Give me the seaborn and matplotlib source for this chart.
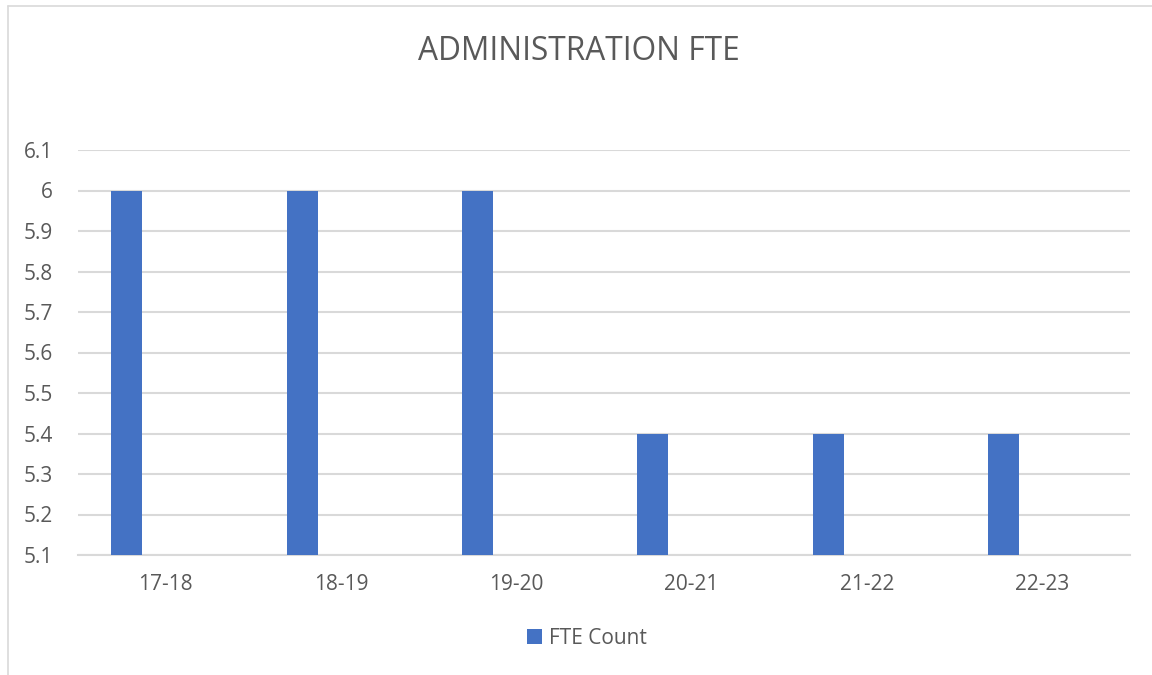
import numpy as np
import pandas as pd
import matplotlib
matplotlib.use("Agg")
import matplotlib.pyplot as plt
from matplotlib.lines import Line2D
from matplotlib.ticker import FixedLocator, FuncFormatter
import seaborn as sns

# chart data
years = ["17-18", "18-19", "19-20", "20-21", "21-22", "22-23"]
fte_count = [6, 6, 6, 5.4, 5.4, 5.4]
series_name = "FTE Count"
y_ticks = [5.1, 5.2, 5.3, 5.4, 5.5, 5.6, 5.7, 5.8, 5.9, 6.0, 6.1]

df = pd.DataFrame({"year": years, "fte": fte_count, "series": series_name})

sns.set_style("white")
plt.rcParams["font.family"] = ["Open Sans", "DejaVu Sans"]
text_col = "#595959"
grid_col = "#D9D9D9"

fig = plt.figure(figsize=(11.52, 6.75), dpi=100)
ax = fig.add_axes([78 / 1152, 1 - 555 / 675, (1130 - 78) / 1152, 0.6])

# an empty second hue slot keeps the bar on the left of each category, like the Excel original
sns.barplot(data=df, x="year", y="fte", hue="series",
            hue_order=[series_name, "_blank"],
            palette={series_name: "#4472C4", "_blank": "#ED7D31"},
            dodge=True, width=0.889, gap=0.603, saturation=1,
            errorbar=None, legend=False, ax=ax, linewidth=0, zorder=3)

ax.set_ylim(5.1, 6.1)
ax.yaxis.set_major_locator(FixedLocator(y_ticks))
ax.yaxis.set_major_formatter(FuncFormatter(lambda v, p: f"{round(v, 2):g}"))
ax.grid(axis="y", color=grid_col, linewidth=1.5, zorder=0)
ax.set_axisbelow(True)
for side in ["left", "right", "top"]:
    ax.spines[side].set_visible(False)
ax.spines["bottom"].set_color(grid_col)
ax.spines["bottom"].set_linewidth(1.5)
ax.tick_params(axis="both", length=0, labelsize=15, labelcolor=text_col)
ax.tick_params(axis="y", pad=18)
ax.tick_params(axis="x", pad=14)
ax.set_xlabel("")
ax.set_ylabel("")

fig.text(579 / 1152, 1 - 51 / 675, "ADMINISTRATION FTE", ha="center", va="center",
         fontsize=22.8, color=text_col)

handle = ax.containers[0].patches[0]
fig.legend([handle], [series_name], loc="center", bbox_to_anchor=(587 / 1152, 1 - 638 / 675),
           frameon=False, fontsize=15, labelcolor=text_col, handlelength=0.7,
           handleheight=0.7, handletextpad=0.35)

# chart area border (left and top edges visible in the original)
fig.add_artist(Line2D([7.5 / 1152, 7.5 / 1152], [0, 1 - 6 / 675], transform=fig.transFigure,
                      color=grid_col, linewidth=1.2))
fig.add_artist(Line2D([7.5 / 1152, 1], [1 - 6 / 675, 1 - 6 / 675], transform=fig.transFigure,
                      color=grid_col, linewidth=1.2))

fig.savefig("out.png", dpi=100)
